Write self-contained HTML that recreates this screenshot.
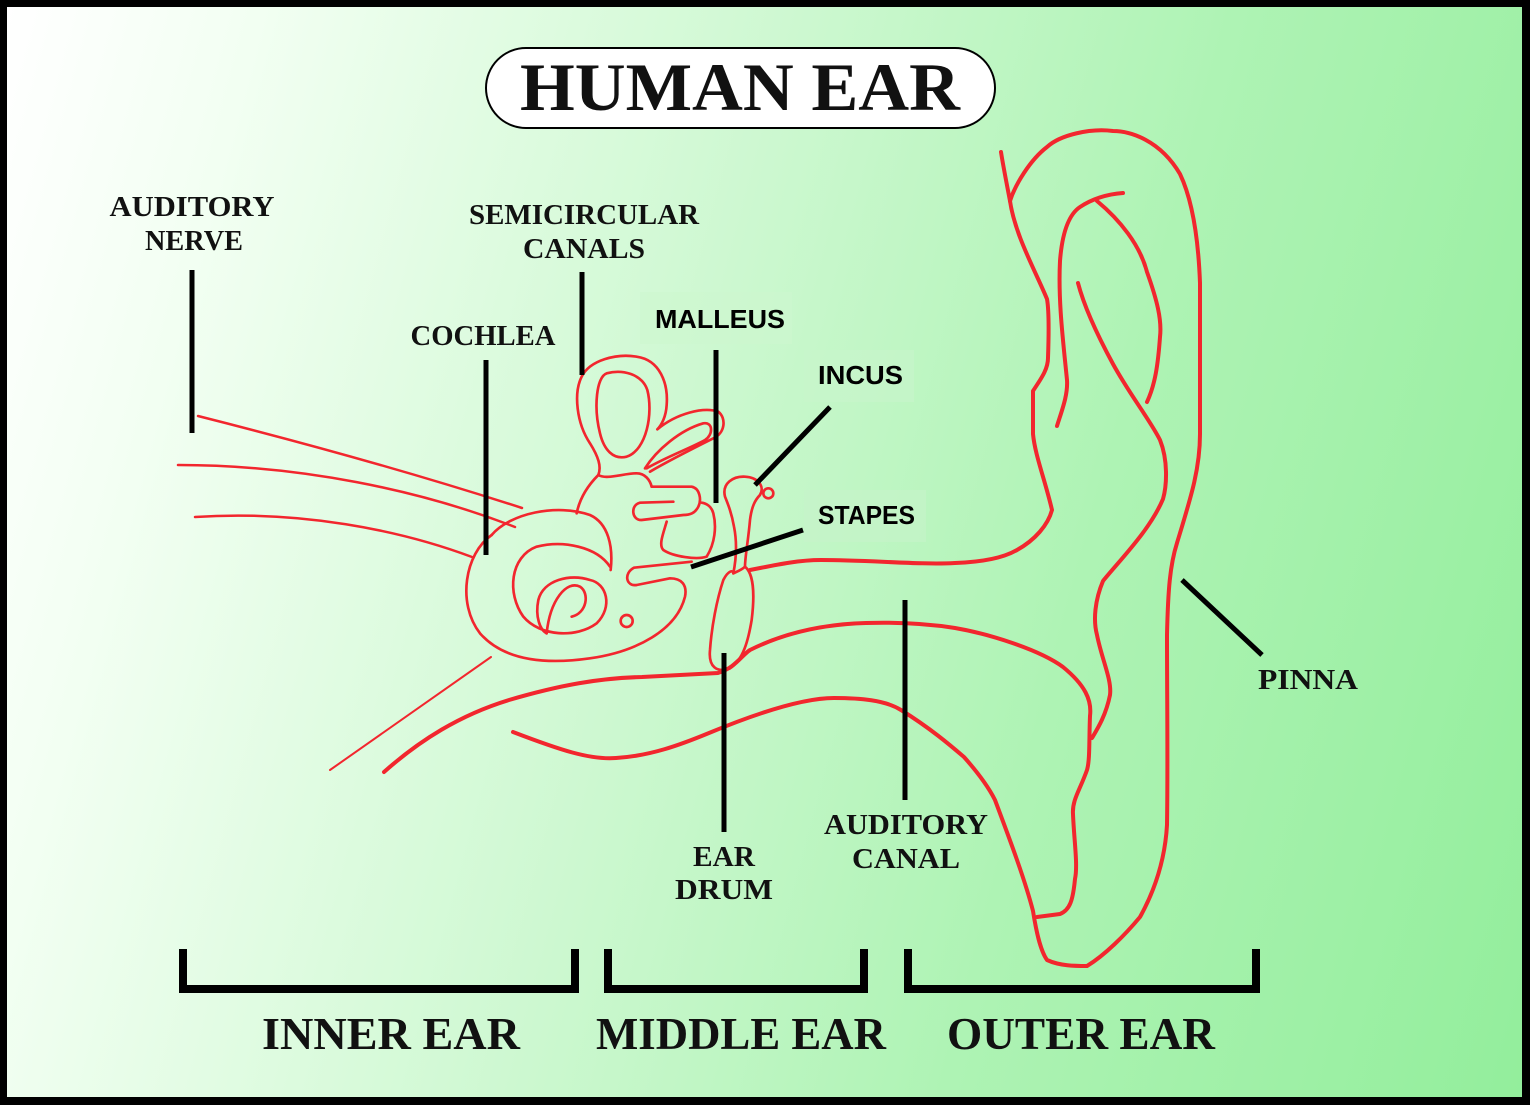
<!DOCTYPE html>
<html><head><meta charset="utf-8"><style>
html,body{margin:0;padding:0;}
body{width:1530px;height:1105px;overflow:hidden;background:#000;}
.frame{position:absolute;left:7px;top:7px;width:1515px;height:1090px;background:linear-gradient(105deg,#ffffff 0%,#f2fff2 14%,#d2f9d5 40%,#aef3b4 68%,#93ee9c 100%);}
svg{position:absolute;left:0;top:0;}
.s{font-family:"Liberation Serif",serif;font-weight:bold;fill:#111;}
.a{font-family:"Liberation Sans",sans-serif;font-weight:bold;fill:#000;}
</style></head><body>
<div class="frame"></div>
<svg width="1530" height="1105" viewBox="0 0 1530 1105">
<rect x="486" y="48" width="509" height="80" rx="40" fill="#fff" stroke="#000" stroke-width="2"/>
<text class="s" x="740" y="110" text-anchor="middle" font-size="68" textLength="440" lengthAdjust="spacingAndGlyphs">HUMAN EAR</text>

<g fill="none" stroke="#f2262e" stroke-width="3" stroke-linecap="round" stroke-linejoin="round">
<path d="M198,416 Q380,462 522,508" stroke-width="2.5"/>
<path d="M178,465 C300,465 420,490 515,527" stroke-width="2.5"/>
<path d="M195,517 C300,510 400,530 472,557" stroke-width="2.5"/>
<path d="M330,770 L491,657" stroke-width="2"/>
<path d="M384,772 C420,740 460,715 509,700 C560,685 600,678 642,677 L718,673 C735,668 742,655 750,650 C790,630 830,624 866,623 C900,622 930,624 955,628 C990,634 1040,650 1063,667 C1085,685 1092,700 1090,716 C1089,740 1090,760 1087,770 C1080,790 1072,800 1073,814 C1074,840 1078,865 1075,879 C1073,900 1070,910 1060,914 L1037,917" stroke-width="4"/>
<path d="M513,732 C560,750 590,760 616,758 C650,756 680,745 709,733 C750,716 800,698 834,698 C860,698 885,700 901,710 C930,728 950,745 964,757 C980,775 990,790 995,800 C1010,840 1025,880 1033,911 C1036,930 1040,950 1047,960 C1060,966 1075,966 1087,966 C1105,955 1125,935 1140,917 C1155,890 1165,860 1167,825 C1168,760 1167,700 1167,635 C1168,590 1170,565 1177,543 C1190,500 1200,470 1200,434 L1200,283 C1198,230 1190,195 1180,174 C1160,140 1130,131 1113,131 C1090,128 1060,135 1047,147 C1030,160 1015,185 1010,201" stroke-width="4"/>
<path d="M750,570 C780,564 800,560 821,560 C870,560 920,565 955,563 C985,562 1005,557 1017,550 C1035,540 1048,525 1052,510 C1045,480 1035,455 1033,434 L1033,391 C1040,380 1048,370 1048,358 C1049,330 1049,310 1047,299 C1035,270 1015,235 1010,201 C1006,180 1003,165 1001,152" stroke-width="4"/>
<path d="M1057,426 C1062,410 1068,395 1067,380 C1063,340 1058,300 1060,261 C1062,235 1068,215 1080,207 C1095,197 1110,194 1123,193" stroke-width="4"/>
<path d="M1097,201 C1120,220 1140,245 1147,272 C1157,300 1162,320 1160,337 C1158,365 1155,385 1147,402" stroke-width="4"/>
<path d="M1078,283 C1085,310 1100,340 1113,364 C1130,395 1150,420 1160,440 C1168,460 1167,485 1163,499 C1150,530 1120,560 1103,581 C1095,600 1093,620 1097,635 C1102,660 1112,680 1110,695 C1106,715 1098,728 1092,738" stroke-width="4"/>

<g transform="translate(450,340) scale(0.33333)" stroke-width="8">
<path d="M125,585 C45,640 20,790 90,880 C160,960 280,975 420,955 C560,935 680,870 705,770 C712,735 695,715 660,715 L560,735 C528,740 520,700 552,683 L725,665"/>
<path d="M125,585 C180,520 320,490 420,525 C475,550 490,620 482,690"/>
<path d="M480,680 C440,620 340,600 260,620 C180,650 170,760 220,830 C270,890 380,895 440,850 C490,800 470,730 420,720 C360,700 280,720 265,780 C255,830 270,870 290,880"/>
<path d="M290,880 C300,780 350,720 390,740 C420,760 410,820 365,830"/>
<circle cx="530" cy="843" r="18"/>
<path d="M380,520 C390,470 420,430 445,405 C455,380 445,350 420,310 C380,250 370,160 395,110 C420,60 500,40 560,50 C630,60 655,130 650,195 C648,230 635,255 622,268 C680,220 760,200 805,215 C830,235 825,280 790,295 C740,320 660,360 600,395"/>
<path d="M470,100 C440,110 430,200 450,280 C462,330 490,360 530,350 C590,330 610,220 592,150 C575,100 515,88 470,100 Z"/>
<path d="M585,385 C620,330 690,270 760,250 C790,245 790,285 765,300 C720,325 650,350 590,385 Z"/>
<path d="M445,405 C470,420 520,400 560,400 C585,400 600,420 605,440"/>
<path d="M605,440 L725,440 C750,445 755,480 745,500 C735,520 720,525 700,525 L575,540 C545,542 540,495 570,488 L670,485"/>
<path d="M650,545 C640,580 625,615 640,630 C670,650 740,660 770,650 C795,610 800,560 790,520 C785,500 770,490 755,488"/>
<path d="M825,470 C815,430 850,408 885,410 C925,412 945,440 930,465 C915,480 905,500 900,540 C895,600 885,650 885,680 C875,690 860,695 850,700 C860,650 860,600 852,560 C845,520 835,495 825,470 Z"/>
<circle cx="955" cy="460" r="15"/>
<path d="M885,680 C910,700 915,760 905,840 C895,900 880,960 840,985 C800,1000 775,980 780,930 C785,860 800,780 820,720 C835,690 850,690 850,700"/>
</g>
</g>

<g stroke="#000" stroke-width="5" stroke-linecap="butt">
<line x1="192" y1="270" x2="192" y2="433"/>
<line x1="486" y1="360" x2="486" y2="555"/>
<line x1="582" y1="272" x2="582" y2="375"/>
<line x1="716" y1="350" x2="716" y2="503"/>
<line x1="830" y1="407" x2="755" y2="485"/>
<line x1="803" y1="530" x2="691" y2="567"/>
<line x1="724" y1="653" x2="724" y2="832"/>
<line x1="905" y1="600" x2="905" y2="800"/>
<line x1="1182" y1="580" x2="1262" y2="655"/>
</g>
<g fill="none" stroke="#000" stroke-width="8" stroke-linejoin="miter">
<path d="M183,949 V989 H575 V949"/>
<path d="M608,949 V989 H864 V949"/>
<path d="M908,949 V989 H1256 V949"/>
</g>

<g class="s" font-size="28" text-anchor="middle">
<text x="192" y="216" textLength="165" lengthAdjust="spacingAndGlyphs">AUDITORY</text>
<text x="194" y="250" textLength="98" lengthAdjust="spacingAndGlyphs">NERVE</text>
<text x="584" y="224" textLength="230" lengthAdjust="spacingAndGlyphs">SEMICIRCULAR</text>
<text x="584" y="258" textLength="122" lengthAdjust="spacingAndGlyphs">CANALS</text>
<text x="483" y="345" textLength="145" lengthAdjust="spacingAndGlyphs">COCHLEA</text>
<text x="724" y="866" textLength="62" lengthAdjust="spacingAndGlyphs">EAR</text>
<text x="724" y="899" textLength="98" lengthAdjust="spacingAndGlyphs">DRUM</text>
<text x="906" y="834" textLength="164" lengthAdjust="spacingAndGlyphs">AUDITORY</text>
<text x="906" y="868" textLength="108" lengthAdjust="spacingAndGlyphs">CANAL</text>
<text x="1308" y="689" textLength="100" lengthAdjust="spacingAndGlyphs">PINNA</text>
</g>
<g class="s" font-size="46" text-anchor="middle">
<text x="391" y="1049" textLength="258" lengthAdjust="spacingAndGlyphs">INNER EAR</text>
<text x="741" y="1049" textLength="290" lengthAdjust="spacingAndGlyphs">MIDDLE EAR</text>
<text x="1081" y="1049" textLength="268" lengthAdjust="spacingAndGlyphs">OUTER EAR</text>
</g>
<g class="a" font-size="26">
<rect x="640" y="292" width="152" height="52" fill="#cdf6cf" opacity="0.6"/>
<rect x="804" y="350" width="110" height="52" fill="#c8f5cb" opacity="0.6"/>
<rect x="804" y="490" width="122" height="52" fill="#c6f4c9" opacity="0.6"/>
<text x="655" y="328" textLength="130" lengthAdjust="spacingAndGlyphs">MALLEUS</text>
<text x="818" y="384" textLength="85" lengthAdjust="spacingAndGlyphs">INCUS</text>
<text x="818" y="524" textLength="97" lengthAdjust="spacingAndGlyphs">STAPES</text>
</g>
</svg>
</body></html>
